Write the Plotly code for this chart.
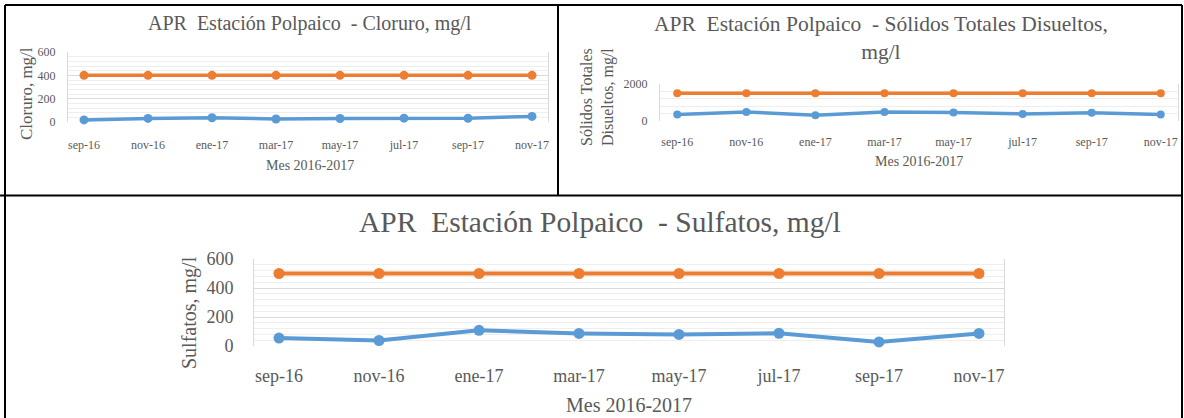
import plotly.graph_objects as go

# ---------------- data ----------------
meses = ["sep-16", "nov-16", "ene-17", "mar-17", "may-17", "jul-17", "sep-17", "nov-17"]

cloruro = [18, 31, 36, 26, 30, 33, 32, 48]
cloruro_norma = [400, 400, 400, 400, 400, 400, 400, 400]

solidos = [335, 480, 300, 480, 450, 370, 440, 340]
solidos_norma = [1500, 1500, 1500, 1500, 1500, 1500, 1500, 1500]

sulfatos = [55, 38, 108, 87, 80, 88, 28, 87]
sulfatos_norma = [500, 500, 500, 500, 500, 500, 500, 500]

titulo_cloruro = "APR\u00a0 Estación Polpaico\u00a0 - Cloruro, mg/l"
titulo_solidos = "APR\u00a0 Estación Polpaico\u00a0 - Sólidos Totales Disueltos,<br>mg/l"
titulo_sulfatos = "APR\u00a0 Estación Polpaico\u00a0 - Sulfatos, mg/l"
eje_x = "Mes 2016-2017"
eje_y_cloruro = "Cloruro, mg/l"
eje_y_solidos = "Sólidos Totales<br>Disueltos, mg/l"
eje_y_sulfatos = "Sulfatos, mg/l"

# ---------------- style ----------------
W, H = 1184, 418
BLUE = "#5B9BD5"
ORANGE = "#ED7D31"
TXT = "#595959"
FONT = "Liberation Serif"
GRID = "#D9D9D9"
MINOR = "#EEEEEE"


def fx(p):
    return p / W


def fy(p):
    return 1 - p / H


fig = go.Figure()

panels = [
    dict(xa="x", ya="y", ov="x4", vals=cloruro, norm=cloruro_norma,
         box=(68, 548, 52, 122), yr=[0, 600], dt=200, mdt=40, tf=12, tlx=12, tly=9, lw=3.5, ms=9),
    dict(xa="x2", ya="y2", ov="x5", vals=solidos, norm=solidos_norma,
         box=(660, 1178, 84, 120.7), yr=[0, 2000], dt=2000, mdt=400, tf=12, tlx=10, tly=9, lw=3.5, ms=8),
    dict(xa="x3", ya="y3", ov="x6", vals=sulfatos, norm=sulfatos_norma,
         box=(254, 1004, 259, 346), yr=[0, 600], dt=200, mdt=40, tf=18, tlx=13, tly=16, lw=4, ms=11),
]

layout = {}
for p in panels:
    x0, x1, y0, y1 = p["box"]
    xdom = [fx(x0), fx(x1)]
    ydom = [fy(y1), fy(y0)]
    xn = "xaxis" + p["xa"][1:]
    yn = "yaxis" + p["ya"][1:]
    on = "xaxis" + p["ov"][1:]
    layout[xn] = dict(
        domain=xdom, anchor=p["ya"], type="category", range=[-0.25, len(meses) - 0.75],
        showgrid=False, zeroline=False, showline=False, automargin=False,
        ticks="outside", ticklen=p["tlx"], tickcolor="rgba(0,0,0,0)",
        tickfont=dict(family=FONT, size=p["tf"], color=TXT), fixedrange=True,
    )
    layout[on] = dict(
        overlaying=p["xa"], anchor=p["ya"], type="linear", range=[-0.25, len(meses) - 0.75],
        tick0=-0.25, dtick=1, showgrid=True, gridcolor=GRID, gridwidth=1,
        minor=dict(tick0=0.25, dtick=1, showgrid=True, gridcolor=MINOR, gridwidth=1),
        showticklabels=False, ticks="", zeroline=False, automargin=False,
        showline=True, mirror=True, linecolor=GRID, linewidth=1, fixedrange=True,
    )
    layout[yn] = dict(
        domain=ydom, anchor=p["xa"], range=p["yr"], tick0=0, dtick=p["dt"],
        showgrid=True, gridcolor=GRID, gridwidth=1, automargin=False,
        minor=dict(dtick=p["mdt"], showgrid=True, gridcolor=MINOR, gridwidth=1),
        zeroline=False, showline=True, mirror=True, linecolor=GRID, linewidth=1,
        ticks="outside", ticklen=p["tly"], tickcolor="rgba(0,0,0,0)",
        tickfont=dict(family=FONT, size=p["tf"], color=TXT), fixedrange=True,
    )
    fig.add_trace(go.Scatter(
        x=meses, y=p["vals"], mode="lines+markers", xaxis=p["xa"], yaxis=p["ya"],
        line=dict(color=BLUE, width=p["lw"]), marker=dict(size=p["ms"], color=BLUE),
        showlegend=False, cliponaxis=False, hoverinfo="x+y",
    ))
    fig.add_trace(go.Scatter(
        x=meses, y=p["norm"], mode="lines+markers", xaxis=p["xa"], yaxis=p["ya"],
        line=dict(color=ORANGE, width=p["lw"]), marker=dict(size=p["ms"], color=ORANGE),
        showlegend=False, cliponaxis=False, hoverinfo="x+y",
    ))


def ann(text, x, y, size, angle=0):
    return dict(text=text, x=fx(x), y=fy(y), xref="paper", yref="paper",
                xanchor="center", yanchor="middle", showarrow=False, textangle=angle,
                font=dict(family=FONT, size=size, color=TXT))


annotations = [
    ann(titulo_cloruro, 310, 24, 20),
    ann(titulo_solidos, 881, 38, 21.5),
    ann(titulo_sulfatos, 600, 222, 29.5),
    ann(eje_x, 310, 166, 14),
    ann(eje_x, 919, 161, 14),
    ann(eje_x, 629, 405, 20),
    ann(eje_y_cloruro, 27, 94, 17, -90),
    ann(eje_y_solidos, 598, 97, 16, -90),
    ann(eje_y_sulfatos, 189, 313, 20, -90),
]


def seg(x0, y0, x1, y1, w=2):
    return dict(type="line", xref="paper", yref="paper",
                x0=fx(x0), y0=fy(y0), x1=fx(x1), y1=fy(y1),
                line=dict(color="black", width=w))


shapes = [
    seg(5, 5, 1182, 5),
    seg(5, 5, 5, 418),
    seg(558, 5, 558, 195),
    seg(1182, 5, 1182, 418),
    seg(0, 195.5, 1182, 195.5),
]

fig.update_layout(
    template="none",
    width=W, height=H, margin=dict(l=0, r=0, t=0, b=0, pad=0, autoexpand=False),
    paper_bgcolor="white", plot_bgcolor="white",
    showlegend=False, annotations=annotations, shapes=shapes,
    font=dict(family=FONT, color=TXT),
    **layout,
)

fig.write_html(
    "out.html",
    config={"displayModeBar": False},
    post_script="document.body.style.margin='0';document.body.style.padding='0';document.body.style.overflow='hidden';",
)
